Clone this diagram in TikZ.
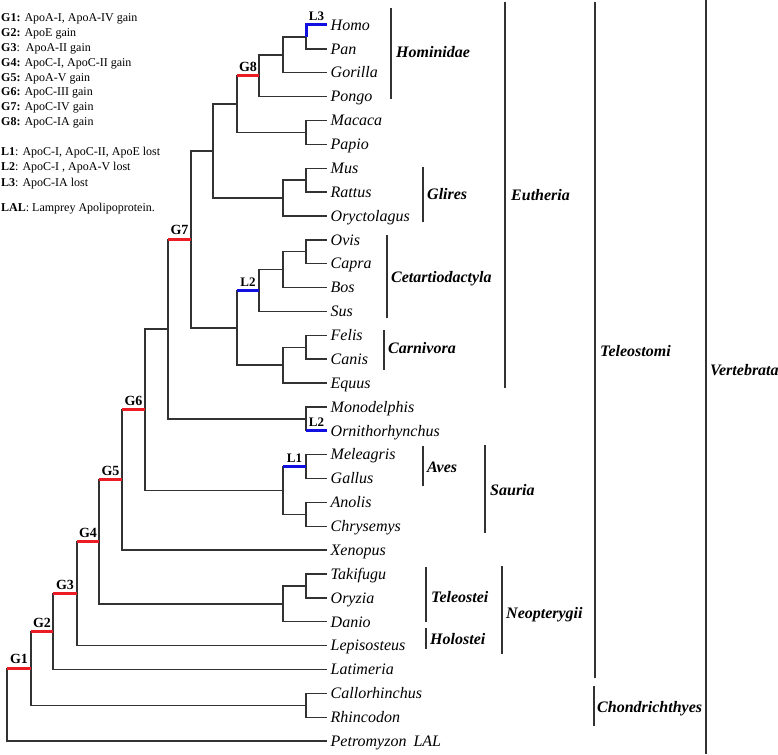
\documentclass[tikz,border=0pt]{standalone}
\usepackage{fontspec}
\setmainfont{Liberation Serif}
\definecolor{gred}{RGB}{236,28,36}
\definecolor{lblue}{RGB}{16,16,224}
\definecolor{lineg}{RGB}{50,50,50}
\begin{document}
\begin{tikzpicture}[x=1pt,y=-1pt,
  br/.style={line width=1.4pt, draw=lineg},
  bar/.style={line width=1.4pt, draw=lineg},
  gain/.style={line width=3pt, draw=gred},
  loss/.style={line width=3pt, draw=lblue},
  leaf/.style={anchor=west, inner ysep=0pt, inner xsep=3.5pt, font=\fontsize{16}{16}\selectfont\itshape, text height=10.5pt, text depth=0pt},
  clade/.style={anchor=west, inner sep=0pt, font=\fontsize{16}{16}\selectfont\bfseries\itshape, text height=10.5pt, text depth=0pt},
  leg/.style={anchor=base west, inner sep=0pt, font=\fontsize{12}{12}\selectfont},
  glab/.style={anchor=base, inner sep=0pt, yshift=4.5pt, font=\fontsize{14}{14}\selectfont\bfseries},
  llab/.style={anchor=base, inner sep=0pt, yshift=4.5pt, font=\fontsize{13}{13}\selectfont\bfseries}
]
\useasboundingbox (0,0) rectangle (778,754);

% legend
\node[leg] (lg1) at (1,22) {\textbf{G1:} ApoA-I, ApoA-IV gain};
\node[leg] (lg2) at (1,36.8) {\textbf{G2:} ApoE gain};
\node[leg] (lg3) at (1,51.6) {\textbf{G3}:\ \ ApoA-II gain};
\node[leg] (lg4) at (1,66.4) {\textbf{G4:} ApoC-I, ApoC-II gain};
\node[leg] (lg5) at (1,81.2) {\textbf{G5:} ApoA-V gain};
\node[leg] (lg6) at (1,96) {\textbf{G6:} ApoC-III gain};
\node[leg] (lg7) at (1,110.8) {\textbf{G7:} ApoC-IV gain};
\node[leg] (lg8) at (1,125.6) {\textbf{G8:} ApoC-IA gain};
\node[leg] (ll1) at (1,156) {\textbf{L1}: ApoC-I, ApoC-II, ApoE lost};
\node[leg] (ll2) at (1,171) {\textbf{L2}: ApoC-I , ApoA-V lost};
\node[leg] (ll3) at (1,186) {\textbf{L3}: ApoC-IA lost};
\node[leg] (llal) at (1,211) {\textbf{LAL}: Lamprey Apolipoprotein.};

% leaves
\foreach \n [count=\i from 0] in {Homo,Pan,Gorilla,Pongo,Macaca,Papio,Mus,Rattus,Oryctolagus,Ovis,Capra,Bos,Sus,Felis,Canis,Equus,Monodelphis,Ornithorhynchus,Meleagris,Gallus,Anolis,Chrysemys,Xenopus,Takifugu,Oryzia,Danio,Lepisosteus,Latimeria,Callorhinchus,Rhincodon}
  \node[leaf] (\n) at (327,{25+\i*23.87}) {\n};
\node[leaf] (Petromyzon) at (327,741.1) {Petromyzon\hspace{7pt}LAL};

% internal nodes
\coordinate (HP) at (306,36.94);
\coordinate (HPG) at (283,54.84);
\coordinate (Hom) at (259,75.73);
\coordinate (MP) at (306,132.42);
\coordinate (Cat) at (237,104.07);
\coordinate (MR) at (306,180.16);
\coordinate (Gli) at (283,198.06);
\coordinate (Eua) at (213,151.07);
\coordinate (OC) at (306,251.77);
\coordinate (OCB) at (283,269.67);
\coordinate (Cet) at (259,290.56);
\coordinate (FC) at (306,347.25);
\coordinate (FCE) at (283,365.15);
\coordinate (Lau) at (237,327.85);
\coordinate (Bor) at (191,239.46);
\coordinate (MO) at (306,418.86);
\coordinate (Mam) at (168,329.16);
\coordinate (MG) at (306,466.6);
\coordinate (AC) at (306,514.34);
\coordinate (Sau) at (283,490.47);
\coordinate (Amn) at (145,409.82);
\coordinate (Tet) at (122,479.98);
\coordinate (TO) at (306,585.95);
\coordinate (Tel) at (283,603.85);
\coordinate (Ost) at (99,541.92);
\coordinate (Act) at (77,593.77);
\coordinate (Sar) at (53,631.63);
\coordinate (CR) at (306,705.3);
\coordinate (Gna) at (31,668.47);
\coordinate (Root) at (7,704.79);

% branches
\foreach \p/\c in {Root/Gna, Root/Petromyzon.west, Gna/Sar, Gna/CR,
  CR/Callorhinchus.west, CR/Rhincodon.west, Sar/Act, Sar/Latimeria.west,
  Act/Ost, Act/Lepisosteus.west, Ost/Tet, Ost/Tel, Tel/TO, Tel/Danio.west,
  TO/Takifugu.west, TO/Oryzia.west, Tet/Amn, Tet/Xenopus.west,
  Amn/Mam, Amn/Sau, Sau/MG, Sau/AC, MG/Meleagris.west, MG/Gallus.west,
  AC/Anolis.west, AC/Chrysemys.west, Mam/Bor, Mam/MO,
  MO/Monodelphis.west, MO/Ornithorhynchus.west, Bor/Eua, Bor/Lau,
  Eua/Cat, Eua/Gli, Cat/Hom, Cat/MP, Hom/HPG, Hom/Pongo.west,
  HPG/HP, HPG/Gorilla.west, HP/Homo.west, HP/Pan.west,
  MP/Macaca.west, MP/Papio.west, Gli/MR, Gli/Oryctolagus.west,
  MR/Mus.west, MR/Rattus.west, Lau/Cet, Lau/FCE, Cet/OCB, Cet/Sus.west,
  OCB/OC, OCB/Bos.west, OC/Ovis.west, OC/Capra.west,
  FCE/FC, FCE/Equus.west, FC/Felis.west, FC/Canis.west}
  \draw[br] (\p) |- (\c);

% gains
\draw[gain] (Root |- Gna) -- (Gna) node[midway,glab] (g1) {G1};
\draw[gain] (Gna |- Sar) -- (Sar) node[midway,glab] (g2) {G2};
\draw[gain] (Sar |- Act) -- (Act) node[midway,glab] (g3) {G3};
\draw[gain] (Act |- Ost) -- (Ost) node[midway,glab] (g4) {G4};
\draw[gain] (Ost |- Tet) -- (Tet) node[midway,glab] (g5) {G5};
\draw[gain] (Tet |- Amn) -- (Amn) node[midway,glab] (g6) {G6};
\draw[gain] (Mam |- Bor) -- (Bor) node[midway,glab] (g7) {G7};
\draw[gain] (Cat |- Hom) -- (Hom) node[midway,glab] (g8) {G8};

% losses
\draw[loss] (HP) |- (Homo.west) node[pos=0.75,llab] (l3) {L3};
\draw[loss] (Lau |- Cet) -- (Cet) node[midway,llab] (l2a) {L2};
\draw[loss] (MO |- Ornithorhynchus.west) -- (Ornithorhynchus.west) node[midway,llab] (l2b) {L2};
\draw[loss] (Sau |- MG) -- (MG) node[midway,llab] (l1) {L1};

% clade bars and labels
\draw[bar] (391,8) -- (391,99);   \node[clade] (cHom) at (396,52) {Hominidae};
\draw[bar] (423,167) -- (423,222); \node[clade] (cGli) at (427,194) {Glires};
\draw[bar] (387,235) -- (387,318); \node[clade] (cCet) at (391,277) {Cetartiodactyla};
\draw[bar] (384,330) -- (384,370); \node[clade] (cCar) at (388,348) {Carnivora};
\draw[bar] (505,2) -- (505,388);   \node[clade] (cEut) at (511,195) {Eutheria};
\draw[bar] (423,446) -- (423,486); \node[clade] (cAve) at (427,467) {Aves};
\draw[bar] (485,445) -- (485,533); \node[clade] (cSau) at (490,490) {Sauria};
\draw[bar] (426,567) -- (426,622); \node[clade] (cTel) at (431,597) {Teleostei};
\draw[bar] (426,628) -- (426,649); \node[clade] (cHol) at (430,639) {Holostei};
\draw[bar] (502,566) -- (502,654); \node[clade] (cNeo) at (506,613) {Neopterygii};
\draw[bar] (595,2) -- (595,678);   \node[clade] (cTst) at (600,351) {Teleostomi};
\draw[bar] (594,686) -- (594,726); \node[clade] (cCho) at (597,707) {Chondrichthyes};
\draw[bar] (706,0) -- (706,754);   \node[clade] (cVer) at (710,370) {Vertebrata};
\end{tikzpicture}
\end{document}
